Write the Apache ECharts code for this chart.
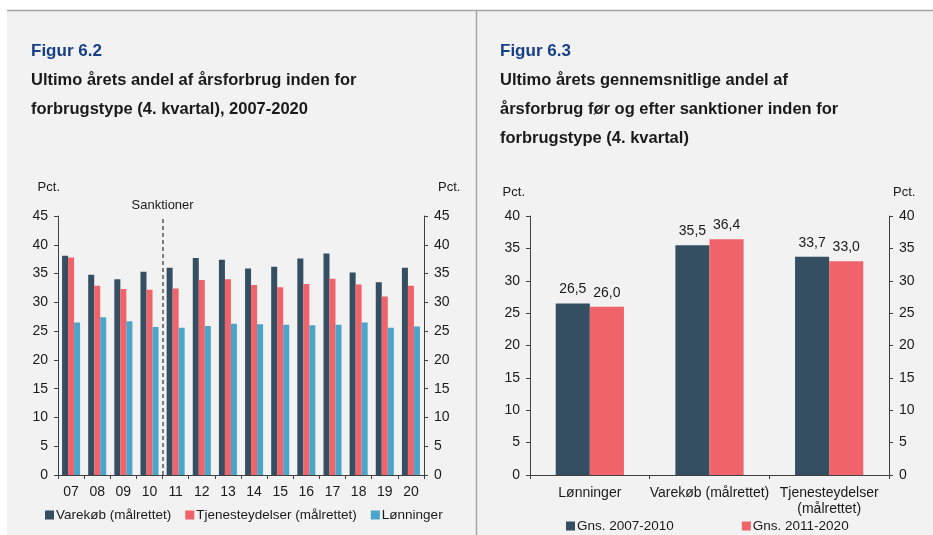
<!DOCTYPE html>
<html>
<head>
<meta charset="utf-8">
<script src="https://cdn.jsdelivr.net/npm/echarts@6/dist/echarts.min.js"></script>
<style>
  html, body { margin: 0; padding: 0; background: #ffffff; }
  #chart { width: 933px; height: 535px; }
</style>
</head>
<body>
<div id="chart"></div>
<script>
// Figur 6.2 - years and shares per type
var years = ['07', '08', '09', '10', '11', '12', '13', '14', '15', '16', '17', '18', '19', '20'];
var varekob = [38.1, 34.8, 34.0, 35.3, 36.0, 37.7, 37.4, 35.9, 36.2, 37.6, 38.5, 35.2, 33.5, 36.0];
var tjeneste = [37.8, 32.9, 32.3, 32.2, 32.4, 33.9, 34.0, 33.0, 32.6, 33.2, 34.1, 33.1, 31.0, 32.9];
var lonninger = [26.5, 27.4, 26.7, 25.7, 25.6, 25.9, 26.3, 26.2, 26.1, 26.0, 26.1, 26.5, 25.6, 25.8];
var sanktionPos = 4; // boundary between 10 and 11

// Figur 6.3 - averages before / after
var types = ['Lønninger', 'Varekøb (målrettet)', 'Tjenesteydelser\n(målrettet)'];
var gns0710 = [26.5, 35.5, 33.7];
var gns1120 = [26.0, 36.4, 33.0];

var DARK = '#344f61';
var RED = '#f0636a';
var BLUE = '#4ba5c8';
var TXT = '#1a1a1a';
var FONT = 'Liberation Sans, Arial, sans-serif';

function yAxisCfg(gridIndex, max, pos, name, gap, pad) {
    return {
        type: 'value',
        gridIndex: gridIndex,
        position: pos,
        min: 0,
        max: max,
        interval: 5,
        name: name,
        nameLocation: 'end',
        nameGap: gap,
        nameTextStyle: { color: TXT, fontSize: 13, fontFamily: FONT, align: pos == 'left' ? 'right' : 'left', padding: pad },
        axisLine: { show: true, lineStyle: { color: '#404040', width: 1 } },
        axisTick: { show: true, inside: false, length: 4, lineStyle: { color: '#404040' } },
        axisLabel: { color: TXT, fontSize: 14, fontFamily: FONT, margin: 10, align: pos == 'left' ? 'right' : 'left' },
        splitLine: { show: false }
    };
}

function fmt(p) {
    return p.value.toFixed(1).replace('.', ',');
}

var chart = echarts.init(document.getElementById('chart'));
var option = {
    animation: false,
    textStyle: { fontFamily: FONT },
    graphic: [
        { type: 'rect', z: -10, shape: { x: 7, y: 10, width: 926, height: 525 }, style: { fill: '#f2f2f2' } },
        { type: 'line', z: -9, shape: { x1: 7, y1: 10.5, x2: 933, y2: 10.5 }, style: { stroke: '#a6a6a6', lineWidth: 1.5 } },
        { type: 'line', z: -9, shape: { x1: 476.5, y1: 10, x2: 476.5, y2: 535 }, style: { stroke: '#a6a6a6', lineWidth: 1.5 } }
    ],
    title: [
        { text: 'Figur 6.2', left: 26, top: 38, textStyle: { color: '#173f88', fontSize: 17, fontWeight: 'bold', fontFamily: FONT } },
        { text: 'Ultimo årets andel af årsforbrug inden for\nforbrugstype (4. kvartal), 2007-2020', left: 26, top: 61,
          textStyle: { color: TXT, fontSize: 16.5, fontWeight: 'bold', lineHeight: 29, fontFamily: FONT } },
        { text: 'Figur 6.3', left: 495, top: 38, textStyle: { color: '#173f88', fontSize: 17, fontWeight: 'bold', fontFamily: FONT } },
        { text: 'Ultimo årets gennemsnitlige andel af\nårsforbrug før og efter sanktioner inden for\nforbrugstype (4. kvartal)', left: 495, top: 61,
          textStyle: { color: TXT, fontSize: 16.5, fontWeight: 'bold', lineHeight: 29, fontFamily: FONT } }
    ],
    legend: [
        {
            data: ['Varekøb (målrettet)', 'Tjenesteydelser (målrettet)', 'Lønninger'],
            left: 40, top: 503, itemWidth: 9, itemHeight: 9, itemGap: 14, icon: 'rect',
            textStyle: { color: TXT, fontSize: 13.5, fontFamily: FONT, padding: [0, 0, 0, -3] }
        },
        {
            data: ['Gns. 2007-2010', 'Gns. 2011-2020'],
            left: 561, top: 514, itemWidth: 9, itemHeight: 9, itemGap: 68, icon: 'rect',
            textStyle: { color: TXT, fontSize: 13.5, fontFamily: FONT, padding: [0, 0, 0, -3] }
        }
    ],
    grid: [
        { left: 58, top: 216, width: 366, height: 259 },
        { left: 530, top: 216, width: 359, height: 259 }
    ],
    xAxis: [
        {
            type: 'category', gridIndex: 0, data: years,
            axisLine: { lineStyle: { color: '#404040' } },
            axisTick: { show: true, length: 4, lineStyle: { color: '#404040' } },
            axisLabel: { color: TXT, fontSize: 14, fontFamily: FONT, margin: 10 }
        },
        { type: 'value', gridIndex: 0, min: 0, max: years.length, show: false },
        {
            type: 'category', gridIndex: 1, data: types,
            axisLine: { lineStyle: { color: '#404040' } },
            axisTick: { show: true, length: 4, lineStyle: { color: '#404040' } },
            axisLabel: { color: TXT, fontSize: 14, fontFamily: FONT, margin: 10, lineHeight: 16, interval: 0 }
        }
    ],
    yAxis: [
        yAxisCfg(0, 45, 'left', 'Pct.', 22, [0, -2, 0, 0]),
        yAxisCfg(0, 45, 'right', 'Pct.', 22, [0, 0, 0, 14]),
        yAxisCfg(1, 40, 'left', 'Pct.', 17, [0, 5, 0, 0]),
        yAxisCfg(1, 40, 'right', 'Pct.', 17, [0, 0, 0, 4])
    ],
    series: [
        { name: 'Varekøb (målrettet)', type: 'bar', xAxisIndex: 0, yAxisIndex: 0, data: varekob,
          itemStyle: { color: DARK }, barGap: '0%', barCategoryGap: '31%' },
        { name: 'Tjenesteydelser (målrettet)', type: 'bar', xAxisIndex: 0, yAxisIndex: 0, data: tjeneste,
          itemStyle: { color: RED }, barGap: '0%', barCategoryGap: '31%' },
        { name: 'Lønninger', type: 'bar', xAxisIndex: 0, yAxisIndex: 0, data: lonninger,
          itemStyle: { color: BLUE }, barGap: '0%', barCategoryGap: '31%' },
        {
            name: 'sanktioner', type: 'line', xAxisIndex: 1, yAxisIndex: 0, data: [],
            markLine: {
                silent: true, symbol: 'none',
                lineStyle: { color: '#555', type: [4, 3], width: 1.5 },
                label: { show: true, position: 'end', formatter: 'Sanktioner', color: TXT, fontSize: 13, fontFamily: FONT, distance: 7 },
                data: [[{ coord: [sanktionPos, 0] }, { coord: [sanktionPos, 44.5] }]]
            }
        },
        { name: 'Gns. 2007-2010', type: 'bar', xAxisIndex: 2, yAxisIndex: 2, data: gns0710,
          itemStyle: { color: DARK }, barGap: '0%', barCategoryGap: '43%',
          label: { show: true, position: 'top', color: TXT, fontSize: 14, fontFamily: FONT, distance: 7, formatter: fmt } },
        { name: 'Gns. 2011-2020', type: 'bar', xAxisIndex: 2, yAxisIndex: 2, data: gns1120,
          itemStyle: { color: RED }, barGap: '0%', barCategoryGap: '43%',
          label: { show: true, position: 'top', color: TXT, fontSize: 14, fontFamily: FONT, distance: 7, formatter: fmt } }
    ]
};
chart.setOption(option);
</script>
</body>
</html>
